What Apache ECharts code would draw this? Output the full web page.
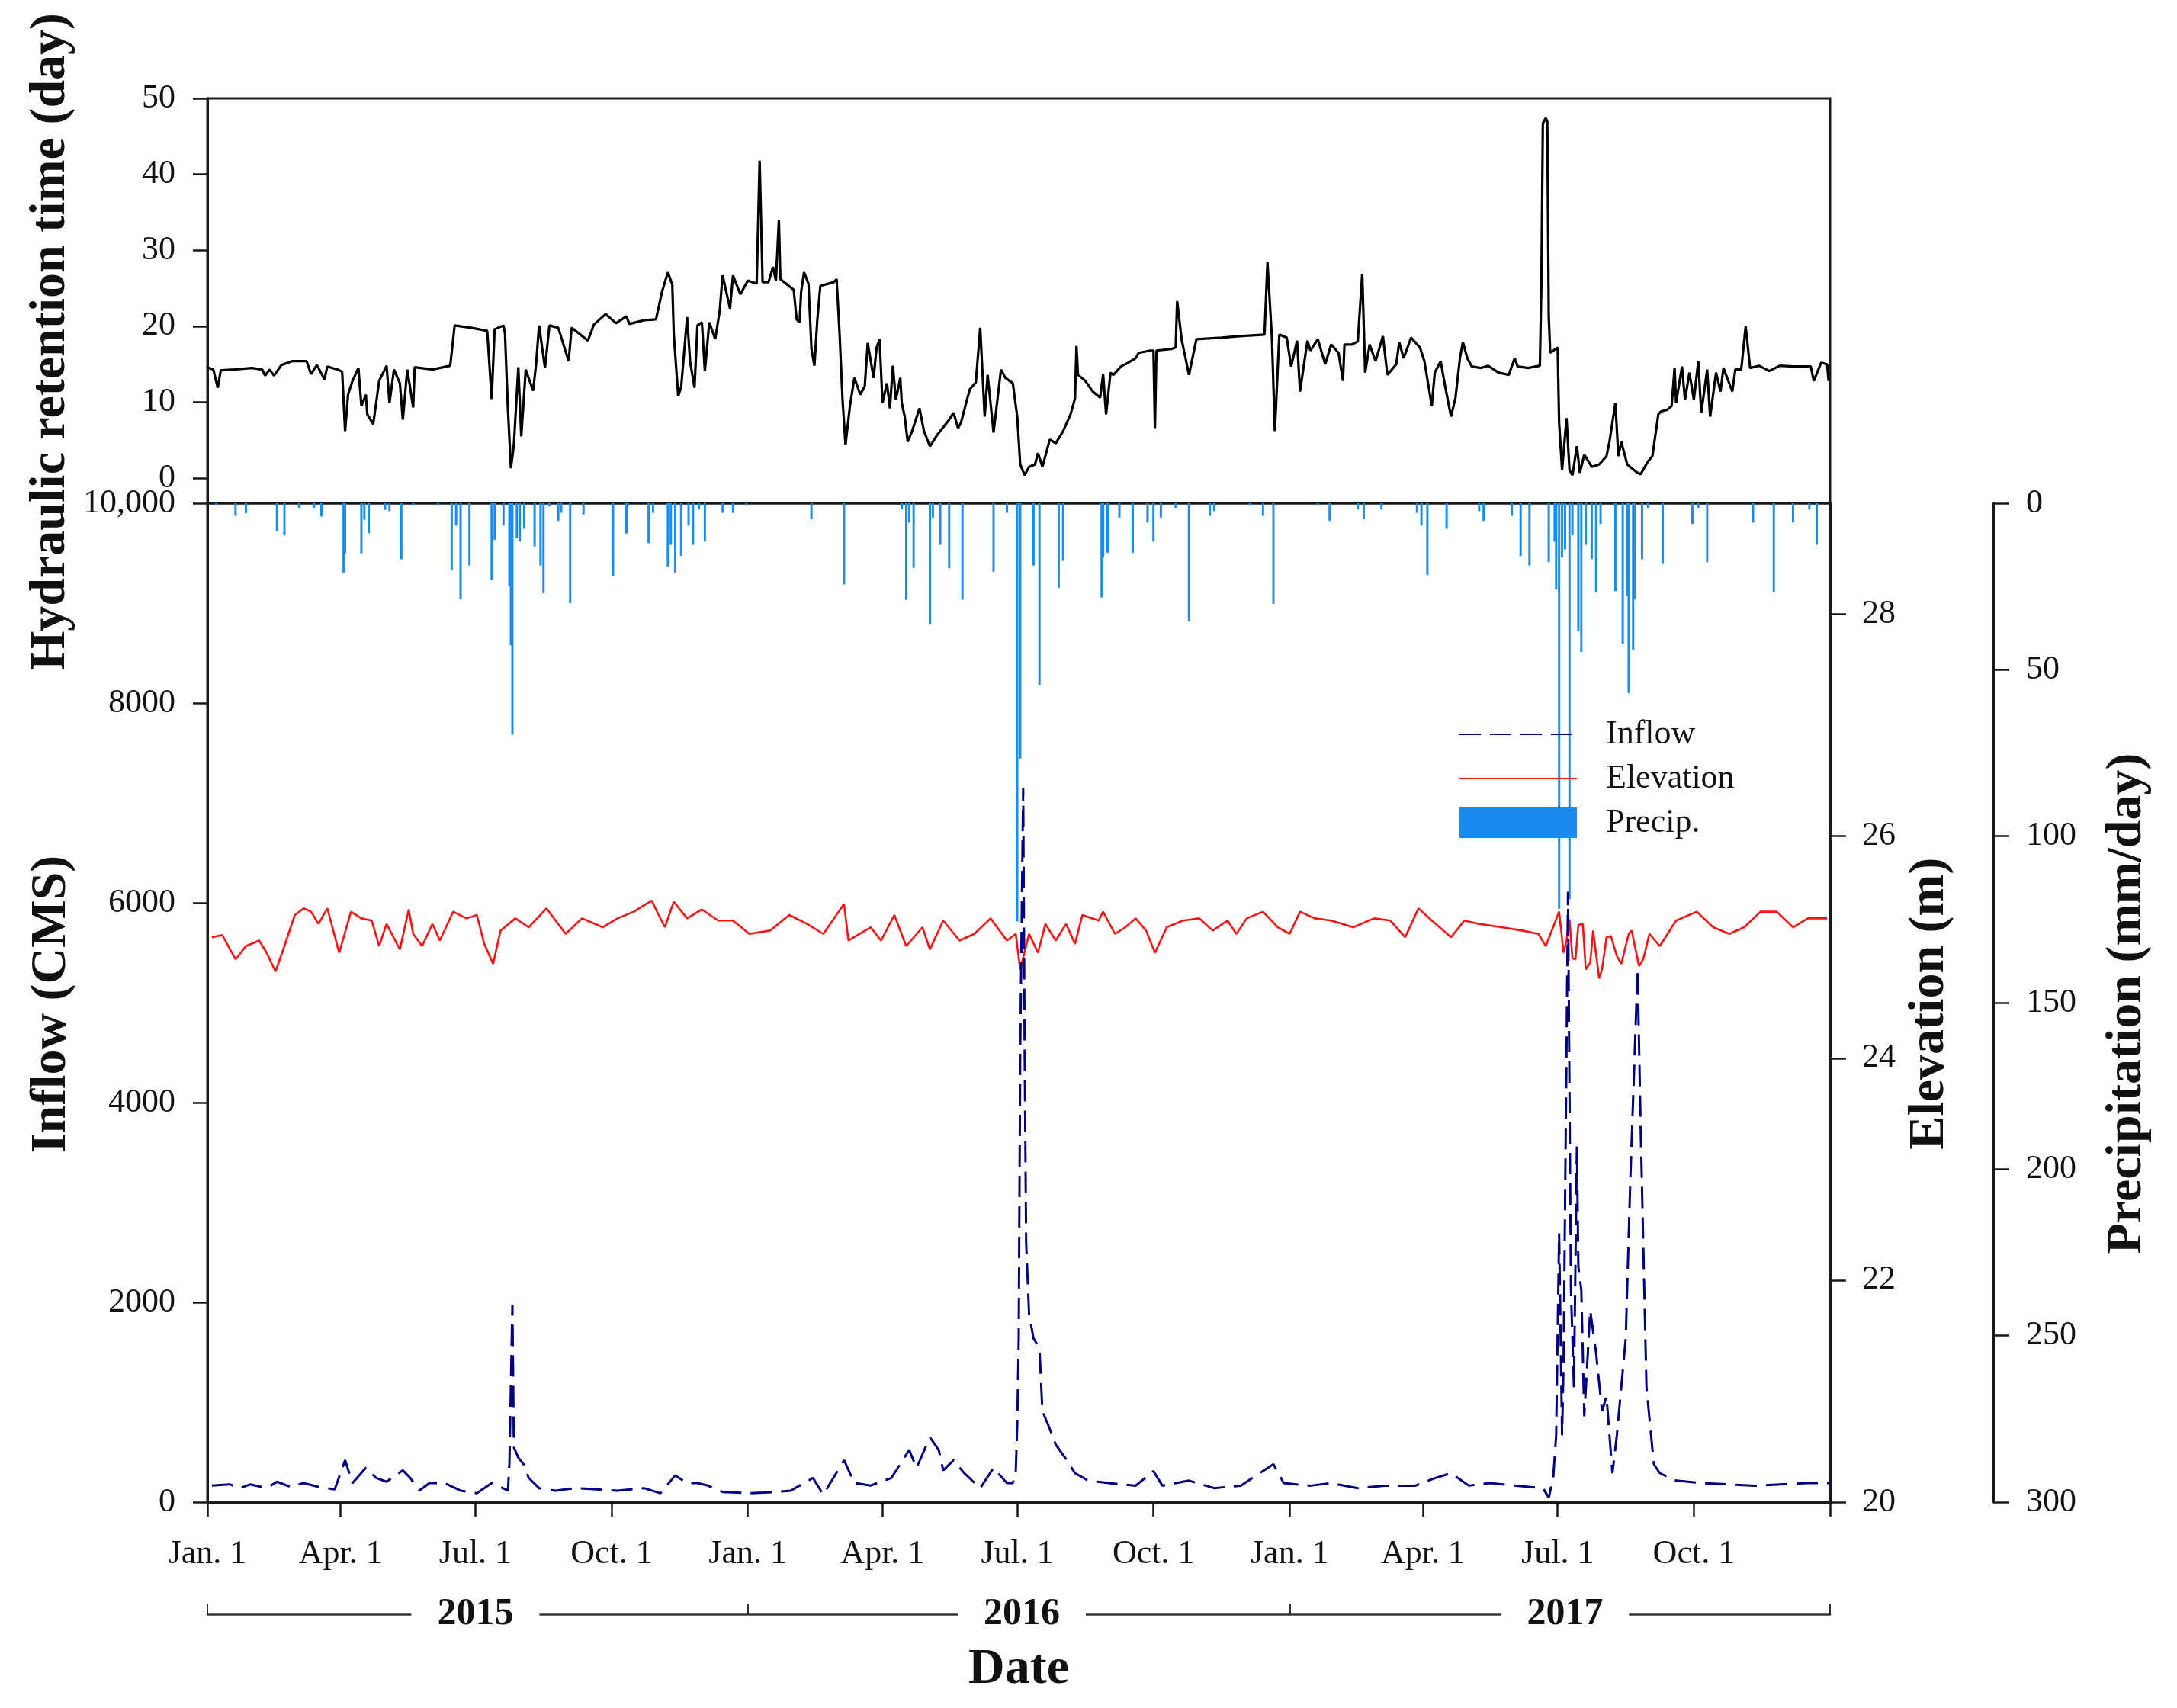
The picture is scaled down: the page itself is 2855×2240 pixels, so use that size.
<!DOCTYPE html>
<html>
<head>
<meta charset="utf-8">
<script src="https://cdn.jsdelivr.net/npm/echarts@6/dist/echarts.min.js"></script>
<style>html,body{margin:0;padding:0;background:#fff}#chart{width:2855px;height:2240px}</style>
</head>
<body>
<div id="chart"></div>
<script>
// ---- Data (x values are days since 1 Jan 2015) ----
const hrtDays = [0,4,7,9,18,30,37,39,42,45,50,57,67,70,74,79,81,88,91,93,95,98,102,104,107,108,112,116,121,123,126,130,132,135,139,140,152,164,167,178,189,192,194,200,201,203,205,207,210,212,215,220,222,224,228,231,237,244,246,257,261,269,276,283,285,295,303,307,311,314,315,318,320,324,326,329,331,334,336,339,343,346,348,353,355,360,365,371,373,375,
379,382,384,386,387,394,396,398,400,401,403,406,408,410,412,414,423,425,427,429,431,434,437,441,444,446,450,452,454,456,459,461,463,465,468,469,471,473,476,481,484,488,493,501,504,507,509,513,515,519,522,525,527,531,536,539,544,547,549,552,555,559,561,564,569,573,578,583,586,587,588,593,598,603,605,607,610,612,617,622,627,629,637,639,640,641,651,654,655,658,663,668,685,697,714,716,719,721,724,729,732,736,738,743,
745,750,755,759,764,767,768,773,777,780,782,785,789,794,797,803,805,808,813,819,822,827,829,833,836,840,843,846,848,851,854,860,865,872,879,883,885,892,900,901,902,904,905,906,907,912,913,915,918,920,922,925,927,930,935,940,945,947,951,953,955,959,966,968,973,976,980,982,986,989,991,992,996,998,1001,1004,1007,1009,1013,1015,1019,1022,1024,1030,1032,1036,1039,1042,1048,1055,1062,1071,1083,1085,1090,1094,1095];
const hrtValues = [14.6,14.3,11.9,14.2,14.3,14.5,14.3,13.5,14.3,13.5,14.9,15.4,15.4,13.7,14.9,13.0,14.7,14.3,14.0,6.2,11.0,12.8,14.5,9.5,11.0,8.4,7.1,12.8,14.8,9.9,14.3,12.5,7.7,14.3,9.3,14.6,14.3,14.8,20.1,19.8,19.4,10.4,19.6,20.1,19.0,9.0,1.3,4.4,14.6,5.5,14.3,11.5,15.0,20.1,14.5,20.1,19.8,15.4,19.8,18.1,20.2,21.6,20.4,21.3,20.3,20.8,20.9,24.5,27.1,25.5,19.0,10.8,12.0,21.2,15.4,11.9,20.1,20.5,14.1,20.5,18.3,22.0,26.7,22.3,26.7,24.2,26.0,25.6,41.8,25.8,
25.8,27.8,26.0,34.0,26.2,25.1,24.8,20.9,20.5,24.5,27.1,25.6,17.0,14.8,20.9,25.3,25.8,26.2,19.0,10.3,4.4,9.5,13.2,11.0,12.1,17.8,13.2,17.2,18.3,9.9,12.5,9.2,14.8,10.3,13.2,9.9,8.1,4.8,6.2,9.2,6.2,4.2,5.7,7.7,8.6,6.6,7.3,10.3,11.7,12.6,19.8,8.1,13.6,6.0,14.3,13.2,12.5,8.1,1.8,0.4,1.5,1.8,3.3,1.5,5.1,4.6,6.2,8.4,10.5,17.4,13.6,12.8,11.4,10.6,13.7,8.4,13.9,13.6,14.7,15.2,15.8,16.5,16.8,16.8,6.6,16.8,17.0,17.2,23.3,18.3,13.6,18.3,18.5,18.7,18.9,28.4,18.5,6.2,18.9,18.5,14.7,18.1,11.4,18.1,
16.8,18.3,15.0,17.6,16.5,12.8,17.6,17.6,18.0,26.9,13.9,17.6,15.4,18.7,13.6,15.0,17.9,15.8,18.5,17.2,15.4,9.5,13.9,15.4,12.1,8.1,10.6,15.8,17.9,15.8,14.7,14.5,14.8,13.9,13.6,15.8,14.7,14.5,14.8,25.3,46.7,47.4,47.0,21.2,16.5,17.2,7.3,1.1,7.9,1.1,0.4,4.2,0.7,3.1,1.5,1.8,2.9,4.8,9.9,2.9,4.8,1.8,0.7,0.5,2.2,2.9,8.4,8.8,9.0,9.5,14.5,9.9,14.7,10.3,13.9,10.3,15.4,8.6,14.3,8.1,13.9,11.4,14.5,11.4,14.3,14.3,20.0,14.5,14.8,14.1,14.8,14.7,14.7,12.8,15.2,15.0,12.8];

const elevDays = [3,10,19,26,35,40,46,52,59,65,70,75,81,89,97,104,111,116,121,130,136,139,145,152,157,166,175,182,187,193,198,208,217,229,242,253,267,277,288,300,309,315,324,334,345,355,366,380,393,405,416,430,433,448,455,464,472,483,488,497,508,518,529,540,546,549,555,561,566,573,580,586,591,602,605,613,620,627,634,640,648,659,670,679,689,695,702,713,723,731,738,748,759,774,788,799,809,818,827,840,849,859,874,888,899,904,913,916,918,920,922,924,926,929,931,934,936,940,942,945,948,952,955,960,962,967,970,974,981,992,1006,1017,1028,1038,1049,1060,1071,1081,1094];
const elevValues = [25.09,25.11,24.89,25.01,25.06,24.95,24.78,25.01,25.29,25.35,25.32,25.21,25.35,24.95,25.32,25.26,25.24,25.01,25.21,24.98,25.34,25.12,25.01,25.21,25.06,25.32,25.26,25.29,25.03,24.85,25.15,25.26,25.18,25.35,25.12,25.26,25.18,25.26,25.32,25.42,25.18,25.41,25.26,25.34,25.24,25.24,25.12,25.15,25.29,25.21,25.12,25.39,25.06,25.18,25.06,25.29,25.01,25.18,24.98,25.24,25.06,25.12,25.26,25.06,25.12,24.80,25.12,24.95,25.21,25.06,25.21,25.03,25.29,25.24,25.32,25.12,25.18,25.26,25.15,24.95,25.18,25.24,25.26,25.15,25.24,25.12,25.26,25.32,25.18,25.12,25.32,25.26,25.24,25.18,25.26,25.24,25.09,25.35,25.24,25.09,25.24,25.21,25.18,25.15,25.12,25.01,25.32,24.95,25.06,25.25,24.90,24.89,25.20,25.21,24.80,24.86,25.15,24.72,24.80,25.09,25.10,24.92,24.85,25.12,25.15,24.83,24.90,25.12,25.01,25.24,25.32,25.18,25.12,25.18,25.32,25.32,25.18,25.26,25.26];

const inflowDays = [3,15,22,29,40,47,56,65,75,86,93,98,107,114,121,132,137,143,150,160,171,182,192,203,204,206,207,210,214,217,224,235,249,263,277,295,306,316,324,331,338,348,366,384,394,409,416,430,437,448,462,474,479,488,494,497,504,511,522,531,540,544,546,547,548,549,551,552,553,555,558,562,564,568,573,580,586,595,609,627,639,645,663,680,698,720,727,745,759,777,795,816,829,840,852,866,884,902,906,909,911,913,915,916,919,921,923,925,926,928,930,934,938,942,945,949,952,958,961,966,968,972,977,981,992,1010,1045,1081,1095];
const inflowValues = [166,178,140,178,140,204,153,191,153,127,420,191,344,242,204,318,242,115,191,191,115,89,191,115,395,1975,548,446,370,242,140,115,140,127,115,140,89,268,191,191,166,102,89,102,115,242,76,420,191,166,242,522,344,650,522,318,420,293,140,344,191,190,300,770,1640,4500,7150,4520,2600,1880,1640,1540,910,770,575,430,290,215,190,165,310,165,215,140,165,380,190,165,190,140,165,165,240,290,165,190,165,140,45,240,670,2690,670,1390,6110,2120,1150,3560,2360,2120,860,1920,1490,910,1060,290,670,1640,3180,5340,3800,1150,380,290,215,190,165,190,190];

const precipDays = [6,19,26,47,52,62,72,77,92,93,104,106,109,120,123,131,139,156,165,168,171,177,192,194,200,204,205,206,209,211,214,221,225,227,231,237,239,245,254,274,283,284,298,301,311,313,316,320,325,328,332,336,348,355,364,408,430,469,472,474,477,488,490,495,501,510,531,540,
547,549,558,562,575,578,604,605,608,616,625,635,639,644,654,663,677,680,704,713,720,750,758,777,781,793,817,820,824,837,859,862,881,887,893,906,910,911,913,915,917,920,922,926,928,931,935,938,941,951,956,959,960,963,964,969,973,983,1003,1007,1013,1044,1058,1071,1082,1087];
const precipValues = [0.5,3.8,3,8.4,9.6,1.4,1.4,4,21,15,15,5,9,2,2.4,16.8,0.5,0.5,20,6.7,28.8,18.7,23,11,6.7,25,42.7,69.5,10.5,11.5,7.7,13,18.7,27,1,5.3,2.9,30,3.4,21.9,9.1,1,12,2.9,19,12.5,21,15.8,6.7,12.5,1.9,11.5,2.9,2.9,0.5,4.8,24.4,1.9,29,5.8,19.4,36.4,4.3,12.5,19.5,29,20.6,2.9,
125.6,76.7,18.7,54.6,25.4,17.3,28.3,16.3,14.9,4.3,14.9,5.8,11.5,4.3,1.4,35.5,3.8,2.4,0.5,3.8,30.2,0.5,5.3,1.9,4.8,1.9,2.9,6.7,21.6,7.7,2.4,5.3,3.8,15.8,18.7,17.7,11.5,25.9,121.8,16.3,13.9,118.9,9.6,38.4,44.6,12.5,16.8,26.8,6.2,26.4,42.2,27.8,57,44,28.8,16.8,1.4,18.2,6.2,1.4,17.7,5.8,26.8,5.8,1.9,12.5];

const tickDates = ['2015-01-01','2015-04-01','2015-07-01','2015-10-01','2016-01-01','2016-04-01','2016-07-01','2016-10-01','2017-01-01','2017-04-01','2017-07-01','2017-10-01'];
const tickLabels = ['Jan. 1','Apr. 1','Jul. 1','Oct. 1','Jan. 1','Apr. 1','Jul. 1','Oct. 1','Jan. 1','Apr. 1','Jul. 1','Oct. 1'];
const yearBoundaryDates = ['2015-01-01','2016-01-01','2017-01-01','2018-01-01'];
const yearLabelDates = ['2015-07-01','2016-07-04','2017-07-06'];
const yearLabels = ['2015','2016','2017'];
const hrtTicks = [0,10,20,30,40,50];

// ---- helpers: dates -> day offsets on a value axis ----
const DAY = 86400000;
const toTime = s => { const p = s.split('-').map(Number); return Date.UTC(p[0], p[1]-1, p[2]); };
const START = toTime('2015-01-01');
const toDay = s => Math.round((toTime(s) - START) / DAY);
const LAST = toDay('2018-01-01');
const pairs = (days, vals) => days.map((d, i) => [d, vals[i]]);
const tickDays = tickDates.map(toDay);
const yearDays = yearLabelDates.map(toDay);
const FONT = '"Liberation Serif", "Times New Roman", serif';
const INK = '#111';
const LINE = '#1a1a1a';

const chart = echarts.init(document.getElementById('chart'), null, { renderer: 'canvas' });
chart.setOption({
  animation: false,
  backgroundColor: '#fff',
  textStyle: { fontFamily: FONT, color: INK },
  grid: [
    { left: 272, right: 455, top: 129, height: 531, show: true, borderColor: LINE, borderWidth: 3, outerBoundsMode: 'none', containLabel: false },
    { left: 272, right: 455, top: 660, height: 1310, show: true, borderColor: LINE, borderWidth: 3, outerBoundsMode: 'none', containLabel: false }
  ],
  xAxis: [
    { type: 'value', gridIndex: 0, min: 0, max: LAST, show: false, splitLine: { show: false } },
    { type: 'value', gridIndex: 1, min: 0, max: LAST, position: 'bottom',
      axisLine: { show: true, onZero: false, lineStyle: { color: LINE, width: 3 } },
      axisTick: { show: true, inside: false, length: 19, lineStyle: { color: LINE, width: 2.5 }, customValues: tickDays.concat([LAST]) },
      axisLabel: { show: true, margin: 46, fontSize: 44, fontFamily: FONT, color: INK, customValues: tickDays,
        formatter: v => { const i = tickDays.indexOf(v); return i >= 0 ? tickLabels[i] : ''; } },
      splitLine: { show: false } },
    { type: 'value', gridIndex: 1, min: 0, max: LAST, position: 'bottom', offset: 147,
      axisLine: { show: true, onZero: false, lineStyle: { color: '#333', width: 2.5 } },
      axisTick: { show: true, inside: true, length: 13, lineStyle: { color: '#333', width: 2 }, customValues: yearBoundaryDates.map(toDay) },
      axisLabel: { show: true, margin: 0, verticalAlign: 'middle', fontSize: 50, fontWeight: 'bold', fontFamily: FONT, color: INK,
        backgroundColor: '#fff', padding: [4, 34, 4, 34], customValues: yearDays,
        formatter: v => { const i = yearDays.indexOf(v); return i >= 0 ? yearLabels[i] : ''; } },
      splitLine: { show: false },
      name: 'Date', nameLocation: 'middle', nameGap: 40,
      nameTextStyle: { fontSize: 66, fontWeight: 'bold', fontFamily: FONT, color: INK } }
  ],
  yAxis: [
    { type: 'value', gridIndex: 0, min: -3.3, max: 50, position: 'left',
      axisLine: { show: true, onZero: false, lineStyle: { color: LINE, width: 3 } },
      axisTick: { show: true, inside: false, length: 19, lineStyle: { color: LINE, width: 2.5 }, customValues: hrtTicks },
      axisLabel: { show: true, margin: 42, fontSize: 44, fontFamily: FONT, color: INK, customValues: hrtTicks },
      splitLine: { show: false } },
    { type: 'value', gridIndex: 1, min: 0, max: 10000, interval: 2000, position: 'left',
      axisLine: { show: true, onZero: false, lineStyle: { color: LINE, width: 3 } },
      axisTick: { show: true, inside: false, length: 19, lineStyle: { color: LINE, width: 2.5 } },
      axisLabel: { show: true, margin: 42, fontSize: 44, fontFamily: FONT, color: INK,
        formatter: v => v === 10000 ? '10,000' : String(v) },
      splitLine: { show: false } },
    { type: 'value', gridIndex: 1, min: 20, max: 29, interval: 2, position: 'right',
      axisLine: { show: true, onZero: false, lineStyle: { color: LINE, width: 3 } },
      axisTick: { show: true, inside: false, length: 21, lineStyle: { color: LINE, width: 2.5 } },
      axisLabel: { show: true, margin: 42, fontSize: 44, fontFamily: FONT, color: INK, showMaxLabel: false },
      splitLine: { show: false } },
    { type: 'value', gridIndex: 1, min: 0, max: 300, interval: 50, inverse: true, position: 'right', offset: 214,
      axisLine: { show: true, onZero: false, lineStyle: { color: LINE, width: 3 } },
      axisTick: { show: true, inside: false, length: 21, lineStyle: { color: LINE, width: 2.5 } },
      axisLabel: { show: true, margin: 43, fontSize: 44, fontFamily: FONT, color: INK },
      splitLine: { show: false } }
  ],
  legend: {
    left: 1908, top: 936, orient: 'vertical', itemWidth: 154, itemHeight: 40, itemGap: 14,
    textStyle: { fontSize: 44, fontFamily: FONT, color: INK, padding: [0, 0, 0, 33] },
    data: [
      { name: 'Inflow', itemStyle: { opacity: 0 } },
      { name: 'Elevation', itemStyle: { opacity: 0 } },
      { name: 'Precip.', icon: 'rect' }
    ]
  },
  graphic: [
    { type: 'text', x: 67, y: 448, rotation: Math.PI / 2, z: 100,
      style: { text: 'Hydraulic retention time (day)', font: 'bold 66px ' + FONT, fill: INK, align: 'center', verticalAlign: 'middle', textAlign: 'center', textVerticalAlign: 'middle' } },
    { type: 'text', x: 68, y: 1317, rotation: Math.PI / 2, z: 100,
      style: { text: 'Inflow (CMS)', font: 'bold 66px ' + FONT, fill: INK, align: 'center', verticalAlign: 'middle', textAlign: 'center', textVerticalAlign: 'middle' } },
    { type: 'text', x: 2531, y: 1316, rotation: Math.PI / 2, z: 100,
      style: { text: 'Elevation (m)', font: 'bold 66px ' + FONT, fill: INK, align: 'center', verticalAlign: 'middle', textAlign: 'center', textVerticalAlign: 'middle' } },
    { type: 'text', x: 2790, y: 1316, rotation: Math.PI / 2, z: 100,
      style: { text: 'Precipitation (mm/day)', font: 'bold 66px ' + FONT, fill: INK, align: 'center', verticalAlign: 'middle', textAlign: 'center', textVerticalAlign: 'middle' } }
  ],
  series: [
    { name: 'HRT', type: 'line', xAxisIndex: 0, yAxisIndex: 0, data: pairs(hrtDays, hrtValues),
      showSymbol: false, symbol: 'none', lineStyle: { color: '#000', width: 3.2 }, z: 3 },
    { name: 'Precip.', type: 'bar', xAxisIndex: 1, yAxisIndex: 3, data: pairs(precipDays, precipValues),
      barWidth: 3, itemStyle: { color: '#1a8cf0' }, z: 1 },
    { name: 'Elevation', type: 'line', xAxisIndex: 1, yAxisIndex: 2, data: pairs(elevDays, elevValues),
      showSymbol: false, symbol: 'none', lineStyle: { color: '#ff1010', width: 2.6 }, itemStyle: { color: '#ff1010' }, z: 2 },
    { name: 'Inflow', type: 'line', xAxisIndex: 1, yAxisIndex: 1, data: pairs(inflowDays, inflowValues),
      showSymbol: false, symbol: 'none', lineStyle: { color: '#000080', width: 3, type: [28, 12] }, itemStyle: { color: '#000080' }, z: 3 }
  ]
});
</script>
</body>
</html>
